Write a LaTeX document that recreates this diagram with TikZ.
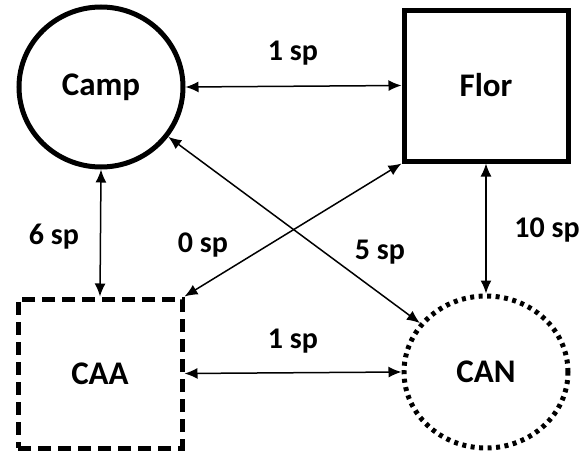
\documentclass[tikz,border=0pt]{standalone}
\usepackage{fontspec}
\setmainfont{Carlito}
\usetikzlibrary{arrows.meta,shapes.geometric}
\begin{document}
\begin{tikzpicture}[x=1pt,y=-1pt,>={Latex[length=13pt,width=11pt]},line width=1.5pt,
	site/.style={line width=5pt,minimum width=164pt,inner sep=0pt,font=\fontsize{33}{38}\selectfont\bfseries},
	lab/.style={font=\fontsize{30}{34}\selectfont\bfseries}]
	\useasboundingbox (0,0) rectangle (582,455);
	\node[site,ellipse,draw,minimum height=160pt] (camp) at (101,87) {Camp};
	\node[site,rectangle,draw,minimum height=151pt] (flor) at (486,85.5) {Flor};
	\node[site,rectangle,draw,dash pattern=on 13pt off 7pt,minimum height=149pt] (caa) at (100,373.5) {CAA};
	\node[site,ellipse,draw,dash pattern=on 4pt off 4.5pt,minimum height=152pt] (can) at (486,372) {CAN};
	\draw[<->] (camp.east) -- (flor.west);
	\draw[<->] (camp.south) -- (caa.north);
	\draw[<->] (flor.south) -- (can.north);
	\draw[<->] (caa.east) -- (can.west);
	\draw[<->] (flor.south west) -- (caa.north east);
	\draw[<->] (camp) -- (can);
	\node[lab] (l1) at (293,53) {1 sp};
	\node[lab] (l6) at (54,237) {6 sp};
	\node[lab] (l0) at (203,245) {0 sp};
	\node[lab] (l5) at (380,252) {5 sp};
	\node[lab] (l10) at (547,230) {10 sp};
	\node[lab] (l1b) at (293,341) {1 sp};
\end{tikzpicture}
\end{document}
